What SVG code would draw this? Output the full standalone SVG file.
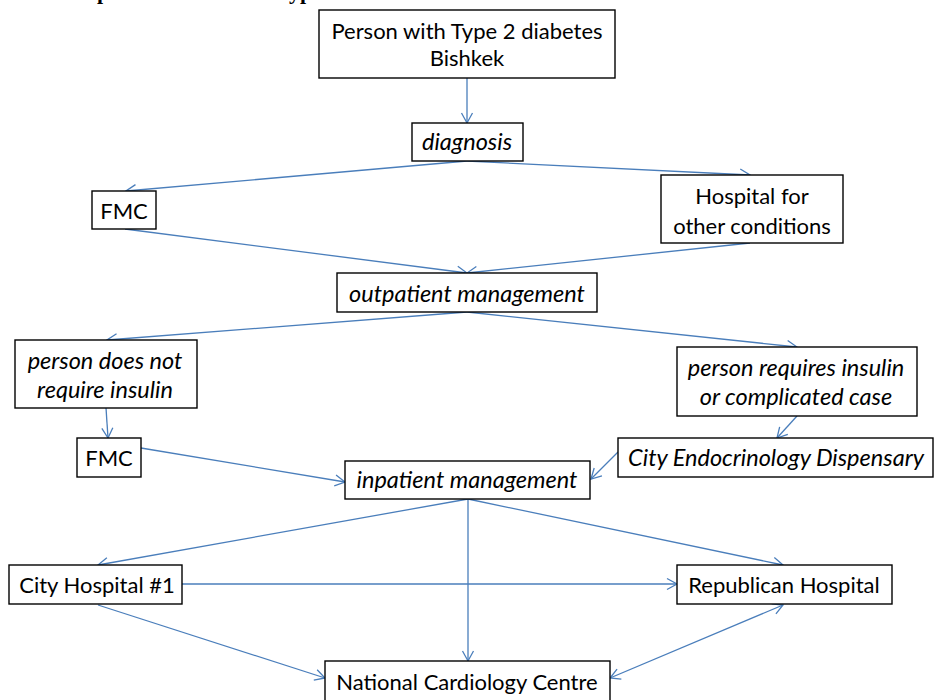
<svg xmlns="http://www.w3.org/2000/svg" width="934" height="700" viewBox="0 0 934 700">
  <defs>
    <marker id="arr" markerUnits="userSpaceOnUse" markerWidth="14" markerHeight="14" viewBox="0 0 14 14" refX="12" refY="7" orient="auto-start-reverse">
      <path d="M2,1.5 L12,7 L2,12.5" fill="none" stroke="#4A7EBB" stroke-width="1.3"/>
    </marker>
    <style>
      .box { fill: #ffffff; stroke: #000000; stroke-width: 1.4; }
      .t { font-family: Lato, "Liberation Sans", sans-serif; font-size: 22px; fill: #000000; text-anchor: middle; }
      .i { font-style: italic; font-size: 23.5px; }
      .title { font-family: "Liberation Serif", serif; font-weight: bold; font-size: 22px; fill: #000000; }
      .c line { stroke: #4A7EBB; stroke-width: 1.3; marker-end: url(#arr); }
    </style>
  </defs>

  <rect width="934" height="700" fill="#ffffff"/>

  <!-- heading, mostly above the top edge -->
  <text class="title" x="97" y="-1">p</text>
  <text class="title" x="289" y="-1">yp</text>

  <!-- connectors -->
  <g id="connectors" class="c">
    <line x1="467" y1="78" x2="467" y2="123"/>
    <line x1="467" y1="161" x2="126" y2="191"/>
    <line x1="467" y1="161" x2="750" y2="175"/>
    <line x1="125" y1="229" x2="467" y2="273"/>
    <line x1="750" y1="243" x2="467" y2="273"/>
    <line x1="467" y1="312" x2="107" y2="340"/>
    <line x1="467" y1="312" x2="797" y2="347"/>
    <line x1="106" y1="408" x2="108" y2="438"/>
    <line x1="797" y1="416" x2="777" y2="438"/>
    <line x1="141" y1="448" x2="345" y2="482"/>
    <line x1="618" y1="452" x2="591" y2="479"/>
    <line x1="468" y1="499" x2="98" y2="565"/>
    <line x1="468" y1="499" x2="468" y2="661"/>
    <line x1="468" y1="499" x2="783" y2="565"/>
    <line x1="182" y1="584" x2="677" y2="584"/>
    <line x1="98" y1="605" x2="325" y2="678"/>
    <line x1="783" y1="605" x2="610" y2="678" marker-start="url(#arr)"/>
  </g>

  <g id="person">
    <rect class="box" x="319" y="10" width="296" height="68"/>
    <text class="t" x="467" y="39">Person with Type 2 diabetes</text>
    <text class="t" x="467" y="66">Bishkek</text>
  </g>

  <g id="diagnosis">
    <rect class="box" x="412" y="123" width="111" height="38"/>
    <text class="t i" x="467" y="150">diagnosis</text>
  </g>

  <g id="fmc1">
    <rect class="box" x="92" y="191" width="64" height="38"/>
    <text class="t" x="124" y="219">FMC</text>
  </g>

  <g id="hospital-other">
    <rect class="box" x="661" y="175" width="182" height="68"/>
    <text class="t" x="752" y="204">Hospital for</text>
    <text class="t" x="752" y="234">other conditions</text>
  </g>

  <g id="outpatient">
    <rect class="box" x="337" y="273" width="260" height="39"/>
    <text class="t i" x="467" y="302">outpatient management</text>
  </g>

  <g id="no-insulin">
    <rect class="box" x="15" y="340" width="182" height="68"/>
    <text class="t i" x="105" y="369">person does not</text>
    <text class="t i" x="105" y="398">require insulin</text>
  </g>

  <g id="insulin">
    <rect class="box" x="677" y="347" width="240" height="69"/>
    <text class="t i" x="796" y="376">person requires insulin</text>
    <text class="t i" x="796" y="405">or complicated case</text>
  </g>

  <g id="fmc2">
    <rect class="box" x="77" y="438" width="64" height="39"/>
    <text class="t" x="109" y="466">FMC</text>
  </g>

  <g id="endocrinology">
    <rect class="box" x="618" y="438" width="315" height="39"/>
    <text class="t i" x="776" y="466">City Endocrinology Dispensary</text>
  </g>

  <g id="inpatient">
    <rect class="box" x="345" y="461" width="245" height="38"/>
    <text class="t i" x="467" y="488">inpatient management</text>
  </g>

  <g id="city-hospital">
    <rect class="box" x="9" y="565" width="173" height="39"/>
    <text class="t" x="97" y="593">City Hospital #1</text>
  </g>

  <g id="republican">
    <rect class="box" x="677" y="565" width="215" height="39"/>
    <text class="t" x="784" y="593">Republican Hospital</text>
  </g>

  <g id="cardiology">
    <rect class="box" x="325" y="661" width="285" height="42"/>
    <text class="t" x="467" y="690">National Cardiology Centre</text>
  </g>
</svg>
